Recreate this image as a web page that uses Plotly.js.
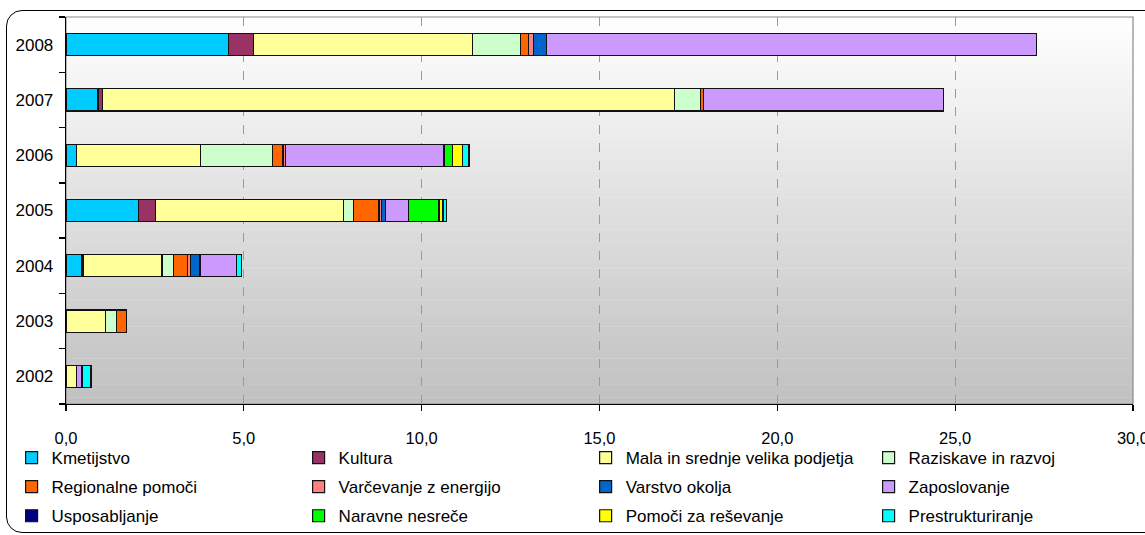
<!DOCTYPE html>
<html>
<head>
<meta charset="utf-8">
<script src="https://cdn.plot.ly/plotly-3.0.1.min.js"></script>
<style>
  html, body { margin: 0; padding: 0; background: #fff; overflow: hidden; }
  #chart { width: 1145px; height: 535px; position: absolute; left: 0; top: 0; }
  #frame { position: absolute; left: 6px; top: 10px; width: 1170px; height: 521px;
           border: 1.3px solid #000; border-radius: 16px; pointer-events: none; }
</style>
</head>
<body>
<div id="chart"></div>
<div id="frame"></div>
<script>
// Categories (years), bottom to top
const years = ["2002", "2003", "2004", "2005", "2006", "2007", "2008"];

// Series values per year (same order as years)
const kmetijstvo        = [0,    0,    0.44, 2.03, 0.29, 0.90, 4.58];
const kultura           = [0,    0,    0.04, 0.48, 0,    0.12, 0.70];
const malaInSrednje     = [0.29, 1.11, 2.22, 5.29, 3.49, 16.09, 6.14];
const raziskave         = [0,    0.31, 0.32, 0.28, 2.02, 0.72, 1.35];
const regionalne        = [0,    0.28, 0.40, 0.72, 0.30, 0.10, 0.23];
const varcevanje        = [0,    0,    0.09, 0.08, 0.08, 0,    0.14];
const varstvoOkolja     = [0,    0,    0.26, 0.11, 0,    0,    0.37];
const zaposlovanje      = [0.14, 0,    1.02, 0.63, 4.45, 6.75, 13.77];
const usposabljanje     = [0,    0,    0,    0,    0,    0,    0];
const naravneNesrece    = [0,    0,    0,    0.87, 0.23, 0,    0];
const pomociZaResevanje = [0.04, 0,    0,    0.11, 0.28, 0,    0];
const prestrukturiranje = [0.23, 0,    0.14, 0.09, 0.19, 0,    0];

const seriesNames = ["Kmetijstvo", "Kultura", "Mala in srednje velika podjetja", "Raziskave in razvoj",
  "Regionalne pomoči", "Varčevanje z energijo", "Varstvo okolja", "Zaposlovanje",
  "Usposabljanje", "Naravne nesreče", "Pomoči za reševanje", "Prestrukturiranje"];
const seriesValues = [kmetijstvo, kultura, malaInSrednje, raziskave, regionalne, varcevanje,
  varstvoOkolja, zaposlovanje, usposabljanje, naravneNesrece, pomociZaResevanje, prestrukturiranje];
const seriesColors = ["#00CCFF", "#993366", "#FFFF99", "#CCFFCC", "#FF6600", "#FF8080",
  "#0066CC", "#CC99FF", "#000080", "#00FF00", "#FFFF00", "#00FFFF"];

const xTicks = [0, 5, 10, 15, 20, 25, 30];

const legendIds = ["legend", "legend2", "legend3", "legend4"];

const traces = seriesNames.map((name, i) => ({
  type: "bar",
  orientation: "h",
  name: name,
  y: years,
  x: seriesValues[i],
  width: 0.4,
  legend: legendIds[i % 4],
  legendgroup: "g" + i,
  marker: { color: seriesColors[i], line: { color: "#111", width: 1.2 } },
  hoverinfo: "name+x"
}));

// background vertical gradient (white -> grey) in the plot area
const shapes = [];
const nStrips = 60;
for (let k = 0; k < nStrips; k++) {
  const t = (k + 0.5) / nStrips; // 0 bottom -> 1 top
  const v = Math.round(192 + (255 - 192) * t);
  shapes.push({
    type: "rect", xref: "paper", yref: "paper", layer: "below",
    x0: 0, x1: 1, y0: k / nStrips, y1: (k + 1) / nStrips + 0.001,
    fillcolor: `rgb(${v},${v},${v})`, line: { width: 0 }
  });
}
shapes.push({
  type: "rect", xref: "paper", yref: "paper", layer: "below",
  x0: 0, x1: 1, y0: 0, y1: 1, line: { color: "#8a8a8a", width: 1.2 }
});

function legendCol(x) {
  return {
    orientation: "v", traceorder: "grouped", tracegroupgap: 4,
    x: x, xanchor: "left", y: 0.1776, yanchor: "top", yref: "container",
    font: { size: 17 }, itemwidth: 30,
    bgcolor: "rgba(0,0,0,0)", borderwidth: 0
  };
}

const layout = {
  width: 1145, height: 535,
  margin: { l: 66, r: 12, t: 17, b: 131 },
  paper_bgcolor: "rgba(0,0,0,0)",
  plot_bgcolor: "rgba(0,0,0,0)",
  separators: ",.",
  barmode: "stack",
  font: { family: "Liberation Sans, Arial, sans-serif", size: 16, color: "#000" },
  xaxis: {
    range: [0, 30.0001], tickvals: xTicks, tickformat: ".1f",
    showgrid: true, gridcolor: "#9a9a9a", griddash: "dash", gridwidth: 1,
    zeroline: false, showline: true, linecolor: "#000", linewidth: 1.3,
    ticks: "outside", ticklen: 6, tickcolor: "#000", tickwidth: 1.3,
    tickfont: { size: 16.5 }, ticklabelstandoff: 13, ticklabeloverflow: "allow",
    fixedrange: true
  },
  yaxis: {
    type: "category", categoryorder: "array", categoryarray: years,
    showline: true, linecolor: "#000", linewidth: 1.3,
    ticks: "outside", ticklen: 6, tickcolor: "#000", tickwidth: 1.3,
    tickson: "boundaries", showgrid: false,
    tickfont: { size: 17 }, ticklabelstandoff: 8, fixedrange: true
  },
  legend: legendCol(-0.051),
  legend2: legendCol(0.218),
  legend3: legendCol(0.487),
  legend4: legendCol(0.7522),
  shapes: shapes,
  bargap: 0.6
};

Plotly.newPlot("chart", traces, layout, { displayModeBar: false, staticPlot: true });
</script>
</body>
</html>
